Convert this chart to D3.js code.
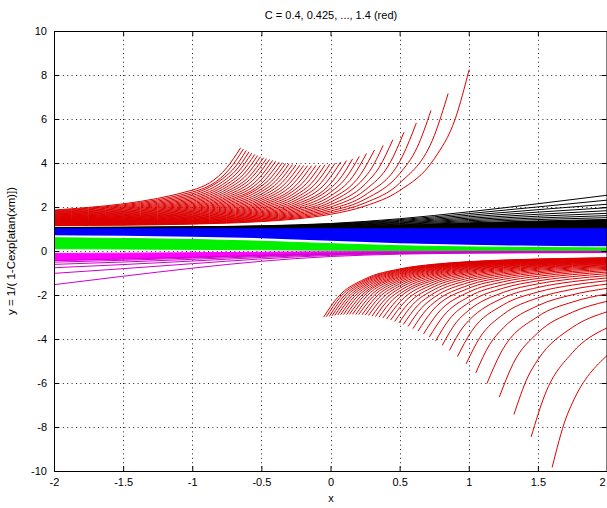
<!DOCTYPE html>
<html>
<head>
<meta charset="utf-8">
<script src="https://cdn.jsdelivr.net/npm/d3@7"></script>
<style>
  body { margin: 0; background: #fff; }
  text { font-family: "Liberation Sans", Arial, sans-serif; fill: #000; }
</style>
</head>
<body>
<svg id="chart" width="607" height="508"></svg>
<script>
const WIDTH = 607;
const HEIGHT = 508;

// --------------- data ---------------
const xTicks = [-2, -1.5, -1, -0.5, 0, 0.5, 1, 1.5, 2];
const yTicks = [-10, -8, -6, -4, -2, 0, 2, 4, 6, 8, 10];

// red family, C = 0.4 ... 1.4
const redC = [0.4, 0.425, 0.45, 0.475, 0.5, 0.525, 0.55, 0.575, 0.6, 0.625, 0.65, 0.675, 0.7, 0.725,
  0.75, 0.775, 0.8, 0.825, 0.85, 0.875, 0.9, 0.925, 0.95, 0.975, 1, 1.025, 1.05, 1.075, 1.1, 1.125,
  1.15, 1.175, 1.2, 1.225, 1.25, 1.275, 1.3, 1.325, 1.35, 1.375, 1.4];

// upper branch: y at these x (as far as each curve reaches), then a point near the tip and the tip
const upperGridX = [-2, -1, -0.75, -0.5, -0.25, 0, 0.25, 0.5, 0.75];
const redUpperY = [
  [1.152, 1.223, 1.266, 1.336, 1.456, 1.667, 2.045, 2.747, 4.188],
  [1.163, 1.240, 1.288, 1.365, 1.498, 1.739, 2.188, 3.084],
  [1.175, 1.258, 1.310, 1.395, 1.544, 1.818, 2.353, 3.514],
  [1.186, 1.276, 1.333, 1.426, 1.592, 1.905, 2.544],
  [1.198, 1.295, 1.356, 1.459, 1.643, 2.000, 2.769],
  [1.210, 1.315, 1.381, 1.493, 1.698, 2.105, 3.037],
  [1.222, 1.335, 1.406, 1.529, 1.756, 2.222, 3.363],
  [1.235, 1.355, 1.433, 1.567, 1.818, 2.353],
  [1.247, 1.377, 1.460, 1.606, 1.885, 2.500],
  [1.260, 1.399, 1.489, 1.648, 1.958, 2.667],
  [1.274, 1.421, 1.519, 1.692, 2.036, 2.857],
  [1.287, 1.445, 1.550, 1.738, 2.120],
  [1.301, 1.469, 1.582, 1.787, 2.212],
  [1.315, 1.494, 1.615, 1.838, 2.312],
  [1.330, 1.520, 1.650, 1.893, 2.422],
  [1.344, 1.546, 1.687, 1.951, 2.542],
  [1.359, 1.574, 1.725, 2.013, 2.675],
  [1.375, 1.603, 1.765, 2.079, 2.823],
  [1.391, 1.633, 1.807, 2.149],
  [1.407, 1.664, 1.851, 2.224],
  [1.423, 1.696, 1.897, 2.305],
  [1.440, 1.729, 1.946, 2.391],
  [1.458, 1.764, 1.997, 2.485],
  [1.475, 1.800, 2.050, 2.586],
  [1.494, 1.838, 2.107, 2.695],
  [1.512, 1.877, 2.167, 2.815],
  [1.531, 1.918, 2.231, 2.945],
  [1.551, 1.961, 2.298],
  [1.571, 2.006, 2.370],
  [1.592, 2.053, 2.446],
  [1.613, 2.102, 2.527],
  [1.635, 2.154, 2.614],
  [1.657, 2.208, 2.707],
  [1.680, 2.265, 2.806],
  [1.704, 2.325, 2.914],
  [1.728, 2.388, 3.030],
  [1.753, 2.455, 3.155],
  [1.779, 2.526, 3.292],
  [1.806, 2.601, 3.441],
  [1.833, 2.680],
  [1.861, 2.765]
];
const redUpperNear = [
  [0.903, 6.02], [0.751, 5.25], [0.627, 4.71], [0.521, 4.31], [0.431, 4.01], [0.351, 3.79],
  [0.281, 3.61], [0.218, 3.48], [0.160, 3.37], [0.108, 3.29], [0.060, 3.22], [0.015, 3.17],
  [-0.027, 3.14], [-0.067, 3.11], [-0.104, 3.09], [-0.139, 3.07], [-0.173, 3.07], [-0.205, 3.07],
  [-0.236, 3.07], [-0.266, 3.08], [-0.294, 3.09], [-0.322, 3.10], [-0.349, 3.12], [-0.375, 3.14],
  [-0.400, 3.16], [-0.425, 3.18], [-0.449, 3.21], [-0.472, 3.24], [-0.496, 3.27], [-0.518, 3.30],
  [-0.541, 3.34], [-0.563, 3.38], [-0.584, 3.41], [-0.606, 3.46], [-0.627, 3.50], [-0.648, 3.54],
  [-0.669, 3.59], [-0.689, 3.63], [-0.709, 3.68], [-0.730, 3.73], [-0.750, 3.79]
];
const redUpperTip = [
  [1.003, 8.25], [0.851, 7.16], [0.727, 6.39], [0.621, 5.82], [0.531, 5.39], [0.451, 5.06],
  [0.381, 4.80], [0.318, 4.59], [0.260, 4.43], [0.208, 4.30], [0.160, 4.19], [0.115, 4.11],
  [0.073, 4.04], [0.033, 3.99], [-0.004, 3.95], [-0.039, 3.92], [-0.073, 3.90], [-0.105, 3.89],
  [-0.136, 3.88], [-0.166, 3.88], [-0.194, 3.89], [-0.222, 3.90], [-0.249, 3.92], [-0.275, 3.93],
  [-0.300, 3.96], [-0.325, 3.98], [-0.349, 4.01], [-0.372, 4.04], [-0.396, 4.08], [-0.418, 4.12],
  [-0.441, 4.16], [-0.463, 4.20], [-0.484, 4.24], [-0.506, 4.29], [-0.527, 4.34], [-0.548, 4.39],
  [-0.569, 4.45], [-0.589, 4.51], [-0.609, 4.57], [-0.630, 4.63], [-0.650, 4.69]
];

// lower branch: start, a point just after it, then y at the last columns of lowerGridX
const lowerGridX = [0.25, 0.5, 0.75, 1, 1.25, 1.5, 1.75, 2];
const redLowerStart = [
  [1.603, -9.84], [1.451, -8.45], [1.327, -7.43], [1.221, -6.64], [1.131, -6.03], [1.051, -5.54],
  [0.981, -5.13], [0.918, -4.80], [0.860, -4.52], [0.808, -4.29], [0.760, -4.09], [0.715, -3.91],
  [0.673, -3.77], [0.633, -3.64], [0.596, -3.53], [0.561, -3.43], [0.527, -3.34], [0.495, -3.27],
  [0.464, -3.20], [0.434, -3.14], [0.406, -3.09], [0.378, -3.05], [0.351, -3.01], [0.325, -2.98],
  [0.300, -2.96], [0.275, -2.93], [0.251, -2.92], [0.228, -2.90], [0.204, -2.89], [0.182, -2.89],
  [0.159, -2.88], [0.137, -2.88], [0.116, -2.89], [0.094, -2.89], [0.073, -2.90], [0.052, -2.91],
  [0.031, -2.93], [0.011, -2.95], [-0.009, -2.97], [-0.030, -2.99], [-0.050, -3.01]
];
const redLowerNear = [
  [1.703, -7.60], [1.551, -6.53], [1.427, -5.73], [1.321, -5.12], [1.231, -4.64], [1.151, -4.25],
  [1.081, -3.93], [1.018, -3.67], [0.960, -3.45], [0.908, -3.26], [0.860, -3.10], [0.815, -2.97],
  [0.773, -2.85], [0.733, -2.74], [0.696, -2.65], [0.661, -2.57], [0.627, -2.50], [0.595, -2.43],
  [0.564, -2.38], [0.534, -2.33], [0.506, -2.29], [0.478, -2.25], [0.451, -2.21], [0.425, -2.18],
  [0.400, -2.16], [0.375, -2.14], [0.351, -2.12], [0.328, -2.10], [0.304, -2.09], [0.282, -2.08],
  [0.259, -2.07], [0.237, -2.07], [0.216, -2.07], [0.194, -2.07], [0.173, -2.07], [0.152, -2.07],
  [0.131, -2.08], [0.111, -2.08], [0.091, -2.09], [0.070, -2.10], [0.050, -2.12]
];
const redLowerY = [
  [-6.899, -4.755],
  [-4.619, -3.497],
  [-4.944, -3.471, -2.765],
  [-3.716, -2.781, -2.287],
  [-2.977, -2.319, -1.950],
  [-3.494, -2.483, -1.989, -1.699],
  [-2.878, -2.130, -1.741, -1.506],
  [-2.447, -1.865, -1.548, -1.352],
  [-3.165, -2.128, -1.658, -1.394, -1.226],
  [-2.697, -1.882, -1.493, -1.267, -1.122],
  [-2.349, -1.688, -1.357, -1.162, -1.034],
  [-2.081, -1.530, -1.245, -1.073, -0.959],
  [-1.868, -1.399, -1.149, -0.996, -0.894],
  [-1.695, -1.288, -1.067, -0.930, -0.838],
  [-2.340, -1.551, -1.194, -0.996, -0.872, -0.788],
  [-2.106, -1.429, -1.113, -0.934, -0.821, -0.743],
  [-1.914, -1.325, -1.042, -0.879, -0.775, -0.704],
  [-1.754, -1.235, -0.979, -0.830, -0.734, -0.668],
  [-1.619, -1.157, -0.924, -0.787, -0.698, -0.636],
  [-1.503, -1.088, -0.874, -0.747, -0.665, -0.607],
  [-1.403, -1.027, -0.830, -0.712, -0.634, -0.580],
  [-1.315, -0.972, -0.790, -0.680, -0.607, -0.556],
  [-1.959, -1.238, -0.923, -0.753, -0.650, -0.582, -0.533],
  [-1.818, -1.169, -0.878, -0.720, -0.623, -0.558, -0.513],
  [-1.695, -1.107, -0.838, -0.690, -0.598, -0.537, -0.494],
  [-1.588, -1.052, -0.801, -0.662, -0.575, -0.517, -0.476],
  [-1.494, -1.002, -0.767, -0.636, -0.554, -0.499, -0.459],
  [-1.410, -0.956, -0.736, -0.612, -0.534, -0.481, -0.444],
  [-1.335, -0.915, -0.708, -0.590, -0.516, -0.465, -0.429],
  [-1.268, -0.876, -0.681, -0.569, -0.499, -0.450, -0.416],
  [-1.207, -0.841, -0.657, -0.550, -0.482, -0.436, -0.403],
  [-1.152, -0.809, -0.634, -0.532, -0.467, -0.423, -0.391],
  [-1.876, -1.101, -0.779, -0.613, -0.515, -0.453, -0.411, -0.380],
  [-1.770, -1.055, -0.751, -0.593, -0.500, -0.440, -0.399, -0.369],
  [-1.675, -1.013, -0.725, -0.574, -0.485, -0.427, -0.388, -0.359],
  [-1.590, -0.974, -0.701, -0.557, -0.471, -0.416, -0.377, -0.350],
  [-1.513, -0.937, -0.678, -0.540, -0.458, -0.404, -0.367, -0.341],
  [-1.443, -0.904, -0.657, -0.525, -0.445, -0.394, -0.358, -0.332],
  [-1.380, -0.872, -0.637, -0.510, -0.433, -0.384, -0.349, -0.324],
  [-1.322, -0.843, -0.618, -0.496, -0.422, -0.374, -0.341, -0.316],
  [-1.268, -0.816, -0.601, -0.483, -0.412, -0.365, -0.333, -0.309]
];

// the other bands, sampled at bandX
const bandX = [-2, -1.5, -1, -0.5, 0, 0.5, 1, 1.5, 2];
const blackBase = [1, 1, 1, 1, 1, 1, 1, 1, 1];
const blackLines = [
  [1.034, 1.039, 1.048, 1.067, 1.111, 1.189, 1.281, 1.365, 1.434],
  [1.039, 1.044, 1.054, 1.076, 1.127, 1.218, 1.328, 1.430, 1.516],
  [1.043, 1.049, 1.060, 1.085, 1.143, 1.248, 1.378, 1.501, 1.608],
  [1.048, 1.054, 1.067, 1.095, 1.159, 1.280, 1.432, 1.581, 1.712],
  [1.052, 1.059, 1.073, 1.104, 1.176, 1.313, 1.490, 1.669, 1.831],
  [1.057, 1.065, 1.080, 1.114, 1.194, 1.348, 1.554, 1.767, 1.967],
  [1.061, 1.070, 1.087, 1.124, 1.212, 1.385, 1.623, 1.878, 2.125],
  [1.066, 1.075, 1.093, 1.134, 1.231, 1.425, 1.698, 2.004, 2.311],
  [1.071, 1.081, 1.100, 1.144, 1.250, 1.466, 1.781, 2.148, 2.533]
];
const blueTop = [1, 1, 1, 1, 1, 1, 1, 1, 1];
const blueBottom = [0.752, 0.728, 0.687, 0.614, 0.500, 0.386, 0.313, 0.272, 0.248];
const greenTop = [0.602, 0.572, 0.523, 0.443, 0.333, 0.239, 0.186, 0.158, 0.142];
const greenBottom = [0.101, 0.090, 0.075, 0.056, 0.036, 0.023, 0.017, 0.014, 0.012];
const magentaTop = [-0.112, -0.098, -0.079, -0.056, -0.034, -0.021, -0.015, -0.013, -0.011];
const magentaLines = [
  [-1.531, -1.147, -0.781, -0.466, -0.250, -0.144, -0.100, -0.081, -0.071],
  [-1.017, -0.803, -0.576, -0.360, -0.200, -0.117, -0.082, -0.067, -0.058],
  [-0.761, -0.617, -0.456, -0.294, -0.167, -0.099, -0.070, -0.056, -0.050],
  [-0.608, -0.501, -0.378, -0.248, -0.143, -0.085, -0.060, -0.049, -0.043],
  [-0.506, -0.422, -0.322, -0.215, -0.125, -0.075, -0.053, -0.043, -0.038],
  [-0.434, -0.365, -0.281, -0.189, -0.111, -0.067, -0.048, -0.039, -0.034]
];

// --------------- scales ---------------
const x = d3.scaleLinear().domain([-2, 2]).range([54, WIDTH]);
const y = d3.scaleLinear().domain([-10, 10]).range([471, 31]);

const svg = d3.select("#chart");

svg.append("defs").append("clipPath").attr("id", "plotclip")
  .append("rect")
  .attr("x", x(-2)).attr("y", y(10))
  .attr("width", x(2) - x(-2)).attr("height", y(-10) - y(10));

// --------------- grid (dotted, under the data) ---------------
const grid = svg.append("g").attr("stroke", "#222").attr("stroke-width", 1)
  .attr("stroke-dasharray", "1,3.4");
grid.selectAll(".vx").data(xTicks.slice(1, -1)).enter().append("line")
  .attr("x1", d => Math.round(x(d)) + 0.5).attr("x2", d => Math.round(x(d)) + 0.5)
  .attr("y1", y(10)).attr("y2", y(-10));
grid.selectAll(".hy").data(yTicks.slice(1, -1)).enter().append("line")
  .attr("y1", d => Math.round(y(d)) + 0.5).attr("y2", d => Math.round(y(d)) + 0.5)
  .attr("x1", x(-2)).attr("x2", x(2));

const plot = svg.append("g").attr("clip-path", "url(#plotclip)");

const line = d3.line().x(d => x(d[0])).y(d => y(d[1])).curve(d3.curveMonotoneX);
const band = (top, bottom) => d3.area()
  .x((d, i) => x(bandX[i]))
  .y0((d, i) => y(bottom[i]))
  .y1((d, i) => y(top[i]))
  .curve(d3.curveMonotoneX)(bandX);
const rows = arr => arr.map(r => r.map((v, i) => [bandX[i], v]));

// black
plot.append("path").attr("d", band(blackLines[0], blackBase)).attr("fill", "#000");
plot.append("g").selectAll("path").data(rows(blackLines)).enter().append("path")
  .attr("d", line).attr("fill", "none").attr("stroke", "#000").attr("stroke-width", 1);

// blue
plot.append("path").attr("d", band(blueTop, blueBottom))
  .attr("fill", "#0000ff").attr("stroke", "#0000ff").attr("stroke-width", 1.5);

// green
plot.append("path").attr("d", band(greenTop, greenBottom))
  .attr("fill", "#00f000").attr("stroke", "#00f000").attr("stroke-width", 1);

// magenta
plot.append("path").attr("d", band(magentaTop, magentaLines[magentaLines.length - 1]))
  .attr("fill", "#ff00ff").attr("stroke", "#ff00ff").attr("stroke-width", 1);
plot.append("g").selectAll("path").data(rows(magentaLines)).enter().append("path")
  .attr("d", line).attr("fill", "none").attr("stroke", "#d000d0").attr("stroke-width", 1);

// red, upper branches
const upperCurves = redC.map((c, i) => {
  const pts = redUpperY[i].map((v, j) => [upperGridX[j], v]);
  pts.push(redUpperNear[i], redUpperTip[i]);
  return pts;
});
// red, lower branches
const lowerCurves = redC.map((c, i) => {
  const row = redLowerY[i];
  const off = lowerGridX.length - row.length;
  return [redLowerStart[i], redLowerNear[i]].concat(row.map((v, j) => [lowerGridX[off + j], v]));
});

plot.append("g").selectAll("path").data(upperCurves.concat(lowerCurves)).enter().append("path")
  .attr("d", line).attr("fill", "none").attr("stroke", "#dd0000").attr("stroke-width", 1);

// --------------- axes ---------------
const fmt = d => String(d);
const axB = svg.append("g").attr("transform", `translate(0,${y(-10)})`)
  .call(d3.axisBottom(x).tickValues(xTicks).tickFormat(fmt).tickSizeInner(-5).tickSizeOuter(0).tickPadding(7));
const axL = svg.append("g").attr("transform", `translate(${x(-2)},0)`)
  .call(d3.axisLeft(y).tickValues(yTicks).tickFormat(fmt).tickSizeInner(-5).tickSizeOuter(0).tickPadding(7));
const axT = svg.append("g").attr("transform", `translate(0,${y(10)})`)
  .call(d3.axisTop(x).tickValues(xTicks).tickFormat("").tickSizeInner(-5).tickSizeOuter(0));
const axR = svg.append("g").attr("transform", `translate(${x(2) - 0.5},0)`)
  .call(d3.axisRight(y).tickValues(yTicks).tickFormat("").tickSizeInner(-5).tickSizeOuter(0));

[axB, axL, axT, axR].forEach(a => {
  a.selectAll("path, line").attr("stroke", "#000");
  a.selectAll("text").attr("font-size", 11).attr("font-family", "Liberation Sans, Arial, sans-serif");
});
// the last x label sits on the right edge of the window, keep it inside
axB.selectAll(".tick text").filter(d => d === 2).attr("text-anchor", "end").attr("dx", -2);

// title and axis labels
svg.append("text").attr("x", 331).attr("y", 19).attr("text-anchor", "middle")
  .attr("font-size", 11).text("C = 0.4, 0.425, ..., 1.4 (red)");
svg.append("text").attr("x", 331).attr("y", 502).attr("text-anchor", "middle")
  .attr("font-size", 11).text("x");
svg.append("text").attr("transform", "translate(15,251) rotate(-90)").attr("text-anchor", "middle")
  .attr("font-size", 11.5).text("y = 1/( 1-Cexp[atan(xm)])");
</script>
</body>
</html>
